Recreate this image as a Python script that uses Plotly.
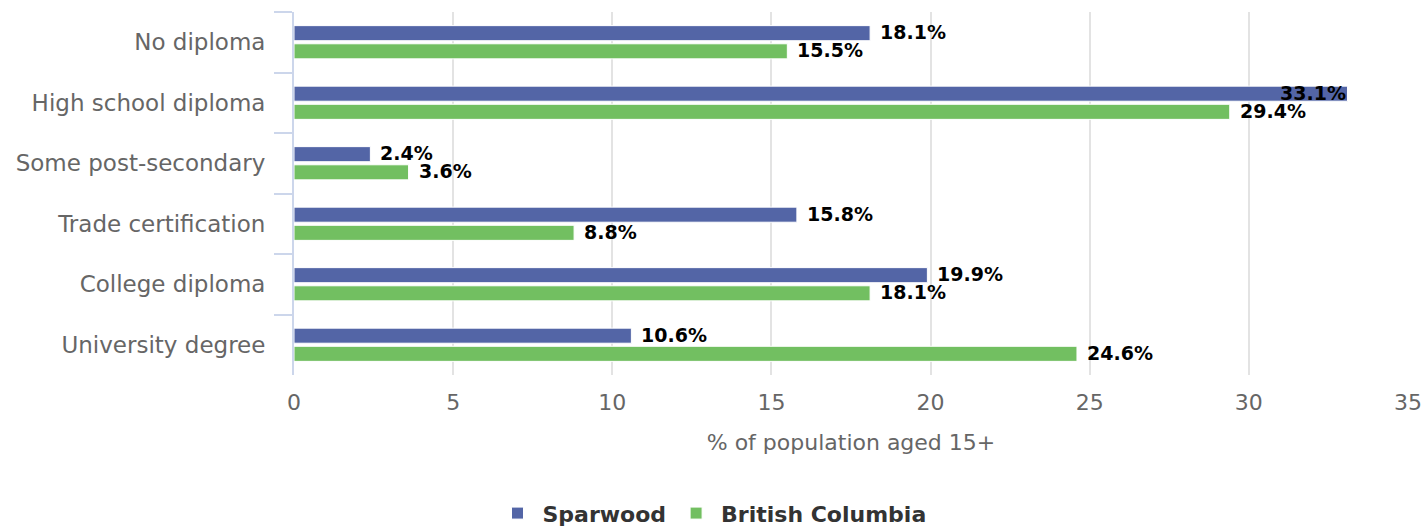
import plotly.graph_objects as go

categories = ["No diploma", "High school diploma", "Some post-secondary",
              "Trade certification", "College diploma", "University degree"]
sparwood = [18.1, 33.1, 2.4, 15.8, 19.9, 10.6]
bc = [15.5, 29.4, 3.6, 8.8, 18.1, 24.6]
series_names = ["Sparwood", "British Columbia"]
x_ticks = [0, 5, 10, 15, 20, 25, 30, 35]
x_title = "% of population aged 15+"

colors = ["#5365a6", "#72bf61"]
FONT = "DejaVu Sans"

fig = go.Figure()
for name, vals, col in zip(series_names, [sparwood, bc], colors):
    fig.add_trace(go.Bar(
        y=categories, x=vals, name=name, orientation="h",
        marker=dict(color=col, line=dict(color="#ffffff", width=1)),
        hoverinfo="x+y",
    ))

# data labels
offsets = [-0.15, 0.15]
annotations = []
for k, vals in enumerate([sparwood, bc]):
    for i, v in enumerate(vals):
        inside = v > 31
        annotations.append(dict(
            x=v, y=i + offsets[k], xref="x", yref="y",
            text=f"{v:.1f}%", showarrow=False,
            xanchor="right" if inside else "left",
            xshift=0 if inside else 8,
            yanchor="middle", yshift=1,
            font=dict(family=FONT, size=19, color="#000000", weight="bold"),
        ))

fig.update_layout(
    barmode="group", bargap=0.4, bargroupgap=0.17,
    width=1424, height=527,
    margin=dict(l=294, r=16, t=12, b=152, autoexpand=False),
    plot_bgcolor="#ffffff", paper_bgcolor="#ffffff",
    font=dict(family=FONT, color="#666666"),
    annotations=annotations,
    legend=dict(
        orientation="h", xref="container", yref="container",
        x=0.5, xanchor="center", y=0.026, yanchor="middle",
        font=dict(family=FONT, size=22, color="#333333", weight="bold"),
        itemwidth=40, traceorder="normal",
    ),
    xaxis=dict(
        range=[0, 35], tickvals=x_ticks, ticktext=[str(t) for t in x_ticks],
        showgrid=True, gridcolor="#e3e3e3", gridwidth=2,
        zeroline=False, showline=False, ticks="",
        tickfont=dict(family=FONT, size=22, color="#666666"),
        ticklabelstandoff=12, automargin=False, ticklabeloverflow="allow",
        title=dict(text=x_title, font=dict(family=FONT, size=22, color="#666666"),
                   standoff=20),
    ),
    yaxis=dict(
        categoryorder="array", categoryarray=categories,
        autorange="reversed", automargin=False,
        showline=True, linecolor="#ccd6eb", linewidth=2,
        ticks="outside", tickson="boundaries", ticklen=18, tickwidth=2,
        tickcolor="#ccd6eb", showgrid=False, zeroline=False,
        tickfont=dict(family=FONT, size=23, color="#666666"),
        ticklabelstandoff=22,
    ),
)

fig.write_html(
    "out.html",
    config={"displayModeBar": False},
    post_script="document.body.style.margin='0';document.body.style.overflow='hidden';",
)
